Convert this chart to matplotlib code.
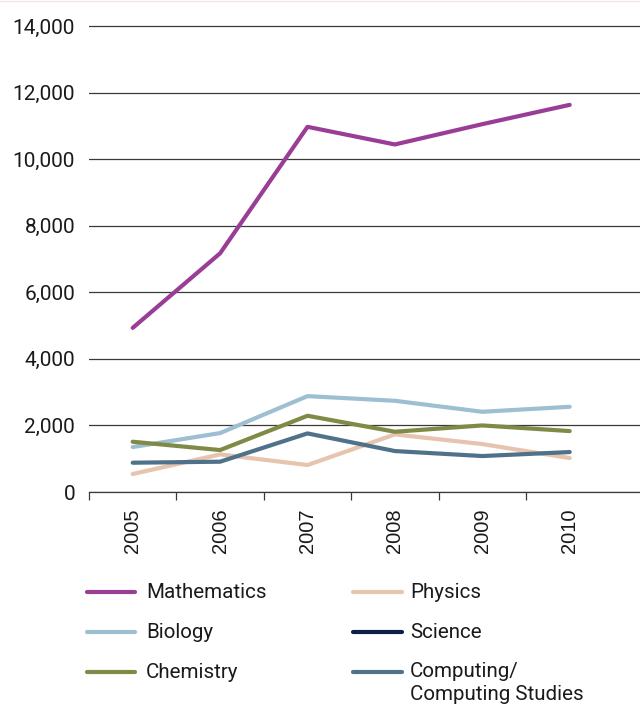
import numpy as np
import matplotlib.pyplot as plt
from matplotlib.lines import Line2D

plt.rcParams['font.family'] = ['Roboto', 'DejaVu Sans']

# Data
years = ['2005', '2006', '2007', '2008', '2009', '2010']
mathematics = [4930, 7170, 10970, 10440, 11050, 11630]
physics = [540, 1130, 810, 1730, 1440, 1020]
biology = [1350, 1770, 2880, 2740, 2410, 2560]
science = [np.nan] * 6  # no visible line in the source
chemistry = [1510, 1260, 2290, 1810, 2000, 1830]
computing = [880, 910, 1760, 1230, 1080, 1200]

series = [
    ('Mathematics', mathematics, '#9a3d96'),
    ('Physics', physics, '#e6c4ae'),
    ('Biology', biology, '#9ebfd2'),
    ('Science', science, '#0d1f48'),
    ('Chemistry', chemistry, '#7e8a45'),
    ('Computing/\nComputing Studies', computing, '#4f7189'),
]

fig = plt.figure(figsize=(6.4, 7.09), dpi=100)
W, H = 640, 709
ax = fig.add_axes([89 / W, 1 - 492 / H, 1 - 89 / W, (492 - 19.3) / H])

x = np.arange(len(years))
for name, vals, col in series:
    ax.plot(x, vals, color=col, lw=3, solid_capstyle='round', zorder=3)

ax.set_ylim(0, 14200)
ax.set_xlim(-0.5, -0.5 + (640 - 89) / 87.4)
ax.set_yticks(np.arange(0, 14001, 2000))
ax.set_yticklabels([f'{v:,}' for v in range(0, 14001, 2000)])
ax.yaxis.grid(True, color='#3a3a3a', lw=0.9)
ax.set_axisbelow(True)

ax.set_xticks(x)
ax.set_xticklabels(years, rotation=90, va='top', family=['Liberation Sans', 'DejaVu Sans'])
ax.set_xticks(np.arange(-0.5, 5, 1.0), minor=True)
ax.tick_params(axis='x', which='major', length=0, pad=12, labelsize=14.5, labelcolor='#1a1a1a')
ax.tick_params(axis='x', which='minor', length=6, width=0.9, color='#3a3a3a', direction='out')
ax.tick_params(axis='y', length=0, pad=10, labelsize=15, labelcolor='#1a1a1a')

for side in ['top', 'right', 'left']:
    ax.spines[side].set_visible(False)
ax.spines['bottom'].set_color('#3a3a3a')
ax.spines['bottom'].set_linewidth(0.9)

# faint line along the top edge
fig.add_artist(Line2D([0, 1], [1 - 0.5 / H, 1 - 0.5 / H], transform=fig.transFigure,
                      color='#f1e3e6', lw=1))

# legend drawn by hand, two columns
col_x = [(87, 135, 146), (353, 402, 410)]
row_y = [592, 632, 672]
order = [0, 2, 4, 1, 3, 5]
for k, idx in enumerate(order):
    name, vals, col = series[idx]
    hx0, hx1, tx = col_x[k // 3]
    yy = row_y[k % 3]
    fig.add_artist(Line2D([hx0 / W, hx1 / W], [1 - yy / H, 1 - yy / H],
                          transform=fig.transFigure, color=col, lw=3,
                          solid_capstyle='round'))
    if '\n' in name:
        fig.text(tx / W, 1 - (yy - 10) / H, name, fontsize=14.8, va='top', ha='left',
                 color='#1a1a1a', linespacing=1.3)
    else:
        fig.text(tx / W, 1 - (yy + 1) / H, name, fontsize=14.8, va='center', ha='left',
                 color='#1a1a1a')

fig.savefig('out.png', dpi=100)
